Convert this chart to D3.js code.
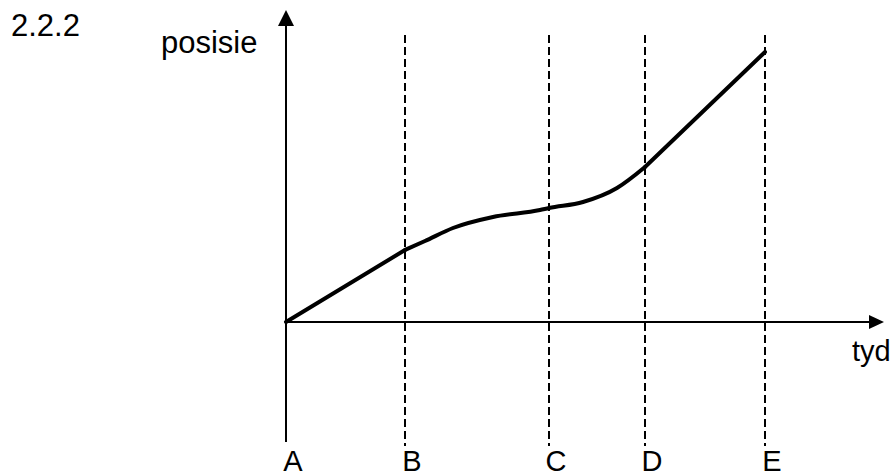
<!DOCTYPE html>
<html>
<head>
<meta charset="utf-8">
<script src="https://cdn.jsdelivr.net/npm/d3@7"></script>
<style>
  html, body { margin: 0; padding: 0; background: #fff; }
  svg { display: block; font-family: 'Liberation Sans', Arial, sans-serif; }
</style>
</head>
<body>
<div id="chart"></div>
<script>
// moments on the time axis and their labels
const markLabels = ['A', 'B', 'C', 'D', 'E'];
const markTimes = [0, 119, 263, 359, 479];

// position vs time
const curveTimes = [0, 119, 139, 167, 207, 254, 263, 297, 331, 359, 479];
const curvePos = [0, 72, 81, 94, 105, 112, 114, 120, 134, 155, 270];

const width = 893, height = 476;

const svg = d3.select('#chart')
  .append('svg')
  .attr('width', width)
  .attr('height', height);

const x = d3.scaleLinear().domain([0, 600]).range([286, 886]);
const y = d3.scaleLinear().domain([-124, 312]).range([446, 10]);

// dashed guides at B..E
svg.selectAll('line.guide')
  .data(markTimes.slice(1))
  .enter()
  .append('line')
  .attr('class', 'guide')
  .attr('x1', d => x(d))
  .attr('x2', d => x(d))
  .attr('y1', y(287))
  .attr('y2', y(-124))
  .attr('stroke', '#000')
  .attr('stroke-width', 2)
  .attr('stroke-dasharray', '8,4');

// vertical axis with arrow
svg.append('line')
  .attr('x1', x(0)).attr('x2', x(0))
  .attr('y1', y(-120)).attr('y2', y(296))
  .attr('stroke', '#000').attr('stroke-width', 2);
svg.append('path')
  .attr('d', `M${x(0)},${y(312)} L${x(0) - 8},${y(296)} L${x(0) + 8},${y(296)} Z`)
  .attr('fill', '#000');

// horizontal axis with arrow
svg.append('line')
  .attr('x1', x(0)).attr('x2', x(584))
  .attr('y1', y(0)).attr('y2', y(0))
  .attr('stroke', '#000').attr('stroke-width', 2);
svg.append('path')
  .attr('d', `M${x(598)},${y(0)} L${x(583)},${y(0) - 7} L${x(583)},${y(0) + 7} Z`)
  .attr('fill', '#000');

// position curve: straight A-B, smooth B-D, straight D-E
const pts = curveTimes.map((t, i) => [t, curvePos[i]]);
const iB = curveTimes.indexOf(markTimes[1]);
const iD = curveTimes.indexOf(markTimes[3]);
const straight = d3.line().x(d => x(d[0])).y(d => y(d[1]));
const smooth = d3.line().x(d => x(d[0])).y(d => y(d[1])).curve(d3.curveMonotoneX);

[
  [pts.slice(0, iB + 1), straight],
  [pts.slice(iB, iD + 1), smooth],
  [pts.slice(iD), straight]
].forEach(([seg, gen]) => {
  svg.append('path')
    .datum(seg)
    .attr('d', gen)
    .attr('fill', 'none')
    .attr('stroke', '#000')
    .attr('stroke-width', 4)
    .attr('stroke-linejoin', 'round')
    .attr('stroke-linecap', 'round');
});

// labels under the guides
svg.selectAll('text.mark')
  .data(markLabels)
  .enter()
  .append('text')
  .attr('class', 'mark')
  .attr('x', (d, i) => x(markTimes[i]) + 7)
  .attr('y', 471)
  .attr('text-anchor', 'middle')
  .style('font-size', '29px')
  .text(d => d);

svg.append('text')
  .attr('x', 11).attr('y', 36)
  .style('font-size', '31px')
  .text('2.2.2');

svg.append('text')
  .attr('x', 161).attr('y', 53)
  .style('font-size', '31px')
  .text('posisie');

svg.append('text')
  .attr('x', 852).attr('y', 361)
  .style('font-size', '29px')
  .text('tyd');
</script>
</body>
</html>
